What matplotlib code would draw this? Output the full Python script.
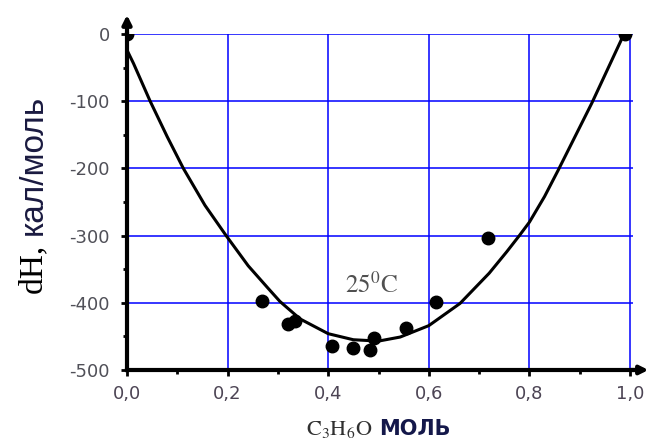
import numpy as np
import matplotlib
matplotlib.use("Agg")
import matplotlib.pyplot as plt

# экспериментальные точки
pts_x = [0.0, 0.268, 0.321, 0.334, 0.407, 0.449, 0.483, 0.491, 0.555, 0.614, 0.718, 0.99]
pts_y = [0, -397, -432, -427, -465, -467, -470, -452, -437, -399, -304, 0]

# сглаживающая кривая
curve_x = [0.0, 0.013, 0.046, 0.08, 0.112, 0.155, 0.197, 0.241, 0.28, 0.304, 0.344,
           0.40, 0.45, 0.50, 0.543, 0.60, 0.662, 0.72, 0.755, 0.78, 0.80, 0.83,
           0.857, 0.924, 0.985]
curve_y = [-24, -44, -100, -153, -200, -255, -300, -345, -378, -398, -424,
           -446, -455, -457, -451, -434, -401, -356, -324, -300, -280, -242,
           -203, -103, -5]

xticks = [0.0, 0.2, 0.4, 0.6, 0.8, 1.0]
xticklabels = ["0,0", "0,2", "0,4", "0,6", "0,8", "1,0"]
yticks = [0, -100, -200, -300, -400, -500]
yticklabels = ["0", "-100", "-200", "-300", "-400", "-500"]

plt.rcParams["mathtext.fontset"] = "stix"

fig = plt.figure(figsize=(6.51, 4.47), dpi=100)
ax = fig.add_axes([0.1951, 0.1723, 0.7773, 0.7517])

ax.plot(curve_x, curve_y, color="black", lw=2.2, zorder=3,
        solid_joinstyle="round")
ax.plot(pts_x, pts_y, "o", color="black", ms=9, zorder=4)

ax.set_xlim(0, 1.006)
ax.set_ylim(-500, 0)
ax.set_xticks(xticks)
ax.set_xticklabels(xticklabels)
ax.set_yticks(yticks)
ax.set_yticklabels(yticklabels)
ax.set_xticks(np.arange(0.1, 1.0, 0.2), minor=True)
ax.set_yticks(np.arange(-450, 0, 100), minor=True)

ax.grid(True, which="major", color="#0000ff", lw=1.1, zorder=1)
ax.set_axisbelow(True)

for s in ["top", "right"]:
    ax.spines[s].set_visible(False)
for s in ["left", "bottom"]:
    ax.spines[s].set_linewidth(3)
    ax.spines[s].set_zorder(5)

ax.tick_params(which="major", direction="out", length=4, width=2, color="black")
ax.tick_params(which="minor", direction="out", length=3, width=2, color="black")
ax.tick_params(axis="y", pad=8.5, labelsize=13, labelcolor="#505058")
ax.tick_params(axis="x", pad=6.5, labelsize=13, labelcolor="#4c4454")

# стрелки осей
ax.annotate("", xy=(0, 1.065), xytext=(0, 0.99), xycoords="axes fraction",
            arrowprops=dict(arrowstyle="-|>", lw=3, color="black", mutation_scale=13),
            annotation_clip=False)
ax.annotate("", xy=(1.036, 0), xytext=(0.99, 0), xycoords="axes fraction",
            arrowprops=dict(arrowstyle="-|>", lw=3, color="black", mutation_scale=12),
            annotation_clip=False)

ax.text(0.433, -385, r"$\mathrm{25^0C}$", fontsize=18, color="#505050",
        ha="left", va="baseline")

# подписи осей
fig.text(372 / 651, 1 - 435 / 447, r"$\mathrm{C_3H_6O}$", fontsize=16,
         color="#303030", ha="right", va="baseline")
fig.text(379 / 651, 1 - 435 / 447, "МОЛЬ", fontsize=15, family="DejaVu Sans",
         weight="bold", color="#14184a", ha="left", va="baseline")

fig.text(41.5 / 651, 1 - 293 / 447, "dH,", fontsize=24, family="Liberation Serif",
         color="black", rotation=90, rotation_mode="anchor", ha="left", va="baseline")
fig.text(41.5 / 651, 1 - 235 / 447, "кал/моль", fontsize=24, family="Liberation Sans",
         color="#1a1a40", rotation=90, rotation_mode="anchor", ha="left", va="baseline")

fig.savefig("out.png", dpi=100)
